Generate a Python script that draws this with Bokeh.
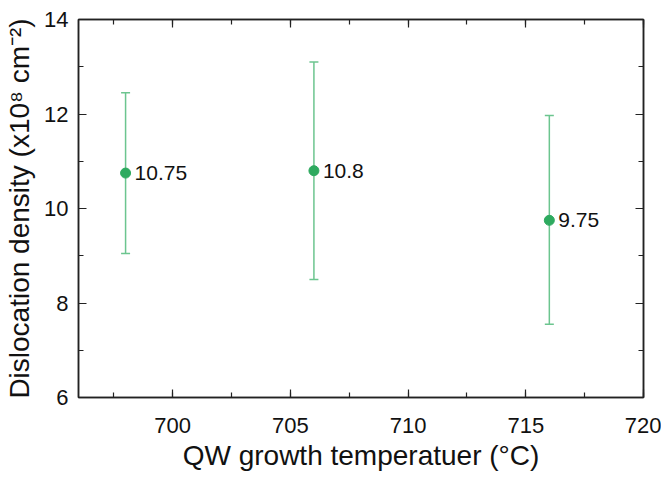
from bokeh.plotting import figure
from bokeh.models import ColumnDataSource, Whisker, LinearAxis, SingleIntervalTicker, Range1d
from bokeh.embed import file_html
from bokeh.resources import INLINE
from bokeh.core.properties import value

# data
temperature = [698, 706, 716]
density = [10.75, 10.8, 9.75]
err_lower = [9.05, 8.5, 7.55]
err_upper = [12.45, 13.1, 11.97]
point_labels = ["10.75", "10.8", "9.75"]

FONT = "Liberation Sans"
GREEN = "#2eaa5f"
GREEN_LIGHT = "#6cc58f"

p = figure(frame_width=565, frame_height=378, output_backend="svg", toolbar_location=None,
           x_range=Range1d(696, 720), y_range=Range1d(6, 14),
           min_border_left=78, min_border_right=18, min_border_top=19, min_border_bottom=78)
p.grid.visible = False
p.outline_line_color = "#222222"
p.outline_line_width = 1.5
p.background_fill_color = "white"
p.border_fill_color = "white"

src = ColumnDataSource(dict(x=temperature, y=density, lo=err_lower, hi=err_upper, lab=point_labels))

w = Whisker(source=src, base="x", upper="hi", lower="lo", dimension="height",
            line_color=GREEN_LIGHT, line_width=1.5)
for head in (w.upper_head, w.lower_head):
    head.size = 9
    head.line_color = GREEN_LIGHT
    head.line_width = 1.5
p.add_layout(w)

p.scatter("x", "y", source=src, size=10, fill_color=GREEN, line_color=GREEN)
p.text("x", "y", text="lab", source=src, x_offset=9, text_baseline="middle",
       text_font=value(FONT), text_font_size="21px", text_color="#111111")

def style(ax, show_labels):
    ax.axis_line_color = "#222222"
    ax.axis_line_width = 1.5
    ax.major_tick_line_color = "#222222"
    ax.minor_tick_line_color = "#222222"
    ax.major_tick_line_width = 1.2
    ax.minor_tick_line_width = 1.2
    ax.major_tick_in = 8
    ax.major_tick_out = 0
    ax.minor_tick_in = 5
    ax.minor_tick_out = 0
    ax.major_label_text_font = FONT
    ax.major_label_text_font_size = "22px"
    ax.major_label_text_color = "#111111" if show_labels else None
    ax.axis_label_text_font = FONT
    ax.axis_label_text_font_size = "28px"
    ax.axis_label_text_font_style = "normal"
    ax.axis_label_text_color = "#111111"

p.xaxis.ticker = SingleIntervalTicker(interval=5, num_minor_ticks=2)
p.yaxis.ticker = SingleIntervalTicker(interval=2, num_minor_ticks=2)
style(p.xaxis[0], True)
style(p.yaxis[0], True)
p.xaxis.axis_label = "QW growth temperatuer (°C)"
p.yaxis.axis_label = "Dislocation density (x10⁸ cm⁻²)"
p.xaxis.major_label_standoff = 20
p.yaxis.major_label_standoff = 10
p.xaxis.axis_label_standoff = 4
p.yaxis.axis_label_standoff = 6

top = LinearAxis(ticker=SingleIntervalTicker(interval=5, num_minor_ticks=2))
style(top, False)
top.major_label_standoff = 0
p.add_layout(top, "above")
right = LinearAxis(ticker=SingleIntervalTicker(interval=2, num_minor_ticks=2))
style(right, False)
right.major_label_standoff = 0
p.add_layout(right, "right")

open("out.html", "w").write(file_html(p, INLINE))
